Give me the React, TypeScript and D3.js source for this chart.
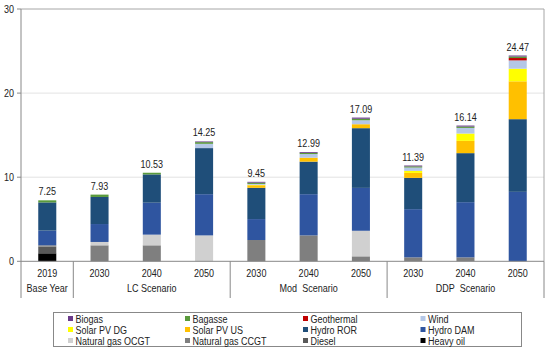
import React from "react";
import * as d3 from "d3";

const categories = ["2019", "2030", "2040", "2050", "2030", "2040", "2050", "2030", "2040", "2050"];
const groups = [
  { label: "Base Year", start: 0, end: 1 },
  { label: "LC Scenario", start: 1, end: 4 },
  { label: "Mod  Scenario", start: 4, end: 7 },
  { label: "DDP  Scenario", start: 7, end: 10 },
];
const totals = [7.25, 7.93, 10.53, 14.25, 9.45, 12.99, 17.09, 11.39, 16.14, 24.47];

// stacked bottom -> top
const seriesNames = [
  "Heavy oil", "Diesel", "Natural gas CCGT", "Natural gas OCGT", "Hydro DAM", "Hydro ROR",
  "Solar PV US", "Solar PV DG", "Wind", "Geothermal", "Bagasse", "Biogas",
];
const heavyOil = [0.95, 0, 0, 0, 0, 0, 0, 0, 0, 0];
const diesel = [0.8, 0, 0, 0, 0, 0, 0, 0, 0, 0];
const ngCCGT = [0.15, 1.9, 1.9, 0, 2.53, 3.08, 0.59, 0.47, 0.47, 0];
const ngOCGT = [0, 0.4, 1.27, 3.08, 0, 0, 3.04, 0, 0, 0];
const hydroDAM = [1.75, 2.13, 3.8, 4.9, 2.49, 4.9, 5.1, 5.73, 6.56, 8.26];
const hydroROR = [3.35, 3.22, 3.36, 5.48, 3.72, 3.87, 7.1, 3.72, 5.83, 8.64];
const solarUS = [0, 0, 0, 0, 0.3, 0.47, 0.47, 0.59, 1.46, 4.5];
const solarDG = [0, 0, 0, 0, 0.05, 0, 0, 0.24, 0.87, 1.5];
const wind = [0, 0, 0, 0.51, 0.11, 0.43, 0.47, 0.4, 0.67, 0.99];
const geothermal = [0, 0, 0, 0, 0, 0, 0, 0, 0, 0.28];
const bagasse = [0.25, 0.28, 0.2, 0.2, 0.15, 0.14, 0.18, 0.14, 0.16, 0.18];
const biogas = [0, 0, 0, 0.08, 0.1, 0.1, 0.14, 0.1, 0.12, 0.12];
const seriesValues = [heavyOil, diesel, ngCCGT, ngOCGT, hydroDAM, hydroROR, solarUS, solarDG, wind, geothermal, bagasse, biogas];
const colors = [
  "#000000", "#595959", "#7f7f7f", "#d0d0d0", "#2f55a0", "#1f4e79",
  "#ffc000", "#ffff00", "#b4c7e7", "#c00000", "#5a9a3c", "#6a3a8a",
];
const yTicks = [0, 10, 20, 30];
const legendOrder = [
  "Biogas", "Bagasse", "Geothermal", "Wind",
  "Solar PV DG", "Solar PV US", "Hydro ROR", "Hydro DAM",
  "Natural gas OCGT", "Natural gas CCGT", "Diesel", "Heavy oil",
];

const SX = 0.82;
function T({ x, y, anchor = "start", children }: { x: number; y: number; anchor?: string; children: React.ReactNode }) {
  return (
    <text transform={`translate(${x},${y}) scale(${SX},1)`} textAnchor={anchor} fontSize={11} fill="#222" style={{ whiteSpace: "pre" }}>
      {children}
    </text>
  );
}

export default function App() {
  const W = 550, H = 352;
  const left = 21, right = 544, top = 9, bottom = 261.3;
  const x = d3.scaleBand<number>().domain(d3.range(categories.length)).range([left, right]).paddingInner(0.655).paddingOuter(0.33);
  const y = d3.scaleLinear().domain([0, 30]).range([bottom, top]);
  const rows = categories.map((_, i) => {
    const o: Record<string, number> = {};
    seriesNames.forEach((s, k) => (o[s] = seriesValues[k][i]));
    return o;
  });
  const stacked = d3.stack<Record<string, number>>().keys(seriesNames)(rows);
  const step = (right - left) / categories.length;
  const font = "'Liberation Sans', Arial, sans-serif";
  const legX = [70.5, 187.5, 305.5, 423];
  const legY = [318.5, 329.5, 340.5];

  return (
    <svg width={W} height={H} style={{ position: "absolute", left: 0, top: 0 }} fontFamily={font}>
      <rect x={0} y={0} width={W} height={H} fill="#fff" />
      {yTicks.filter((t) => t > 0 && t < 30).map((t) => (
        <line key={t} x1={left} x2={right} y1={y(t)} y2={y(t)} stroke="#e3e3e3" strokeWidth={1} />
      ))}
      {stacked.map((s, k) => (
        <g key={s.key} fill={colors[k]}>
          {s.map((d, i) =>
            d[1] - d[0] > 0 ? (
              <rect key={i} x={x(i)!} width={x.bandwidth()} y={y(d[1])} height={y(d[0]) - y(d[1])} />
            ) : null
          )}
        </g>
      ))}
      {totals.map((t, i) => (
        <T key={i} x={x(i)! + x.bandwidth() / 2} y={y(d3.sum(seriesValues, (s) => s[i])) - 5} anchor="middle">
          {t.toFixed(2)}
        </T>
      ))}
      <line x1={left} x2={right} y1={top} y2={top} stroke="#a6a6a6" />
      <line x1={right} x2={right} y1={top} y2={bottom} stroke="#a6a6a6" />
      <line x1={left} x2={left} y1={top} y2={298} stroke="#888" />
      <line x1={left} x2={right} y1={bottom} y2={bottom} stroke="#888" />
      {yTicks.map((t) => (
        <g key={t}>
          <line x1={left - 4} x2={left} y1={y(t)} y2={y(t)} stroke="#888" />
          <T x={left - 7} y={y(t) + 4} anchor="end">{t}</T>
        </g>
      ))}
      {categories.map((c, i) => (
        <T key={i} x={x(i)! + x.bandwidth() / 2} y={276.5} anchor="middle">{c}</T>
      ))}
      {groups.map((g, gi) => (
        <g key={gi}>
          {gi > 0 && <line x1={left + step * g.start} x2={left + step * g.start} y1={bottom} y2={298} stroke="#888" />}
          <T x={left + step * (g.start + g.end) / 2} y={292} anchor="middle">{g.label}</T>
        </g>
      ))}
      <line x1={right} x2={right} y1={bottom} y2={298} stroke="#888" />
      <rect x={53.5} y={312.5} width={468} height={34} fill="#fff" stroke="#888" />
      {legendOrder.map((name, j) => {
        const k = seriesNames.indexOf(name);
        const cx = legX[j % 4], cy = legY[Math.floor(j / 4)];
        return (
          <g key={name}>
            <rect x={cx - 2.5} y={cy - 2.5} width={5} height={5} fill={colors[k]} />
            <T x={cx + 5} y={cy + 4}>{name}</T>
          </g>
        );
      })}
    </svg>
  );
}
